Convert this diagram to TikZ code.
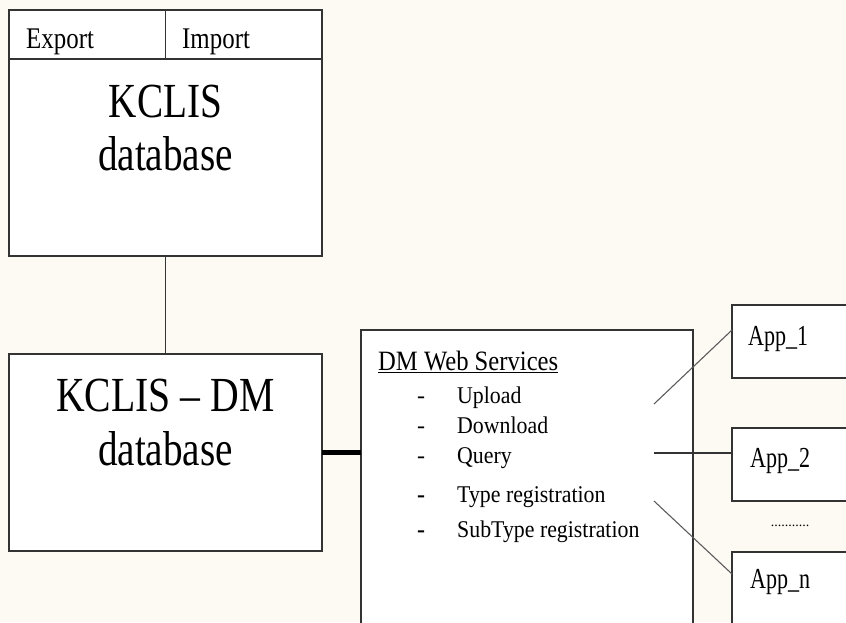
\documentclass[tikz,border=0pt]{standalone}
\usepackage{fontspec}
\setmainfont{Liberation Serif}
\usepackage{graphicx}
\usepackage{xcolor}
\definecolor{paper}{HTML}{FDF9F3}
\definecolor{edge}{HTML}{333333}
\definecolor{wire}{HTML}{5C5C5C}
\newcommand{\nar}[2][0.8]{\scalebox{#1}[1]{#2}}
\tikzset{
  box/.style={draw=edge, line width=1.2pt, fill=white, rectangle, outer sep=0pt, inner sep=0pt, anchor=north west},
  txt/.style={inner sep=0pt, anchor=base west},
  big/.style={inner sep=0pt, anchor=base, font={\fontsize{49}{49}\selectfont}},
  item/.style={txt, font={\fontsize{24}{24}\selectfont}},
  app/.style={txt, font={\fontsize{29}{29}\selectfont}},
}

\begin{document}
\begin{tikzpicture}[x=1pt, y=-1pt]
  \clip (0,0) rectangle (846,622);
  \fill[paper] (0,0) rectangle (846,622);

  % top database
  \node[box, minimum width=313pt, minimum height=246pt] (kclis) at (9,10) {};
  \node[box, minimum width=156.5pt, minimum height=49pt] (export) at (kclis.north west) {};
  \node[box, minimum width=156.5pt, minimum height=49pt] (import) at (export.north east) {};
  \node[txt, font={\fontsize{30}{30}\selectfont}] (exportname) at (26,48) {\nar[0.83]{Export}};
  \node[txt, font={\fontsize{30}{30}\selectfont}] (importname) at (182,48) {\nar[0.83]{Import}};
  \node[big] (kclisname) at (165.5,117) {\nar{KCLIS}};
  \node[big] (kclisdb) at (165.5,170) {\nar{database}};

  % lower database
  \node[box, minimum width=313pt, minimum height=197pt] (kclisdm) at (9,354) {};
  \node[big] (kclisdmname) at (165.5,411) {\nar[0.81]{KCLIS -- DM}};
  \node[big] (kclisdmdb) at (165.5,465) {\nar{database}};
  \draw[edge, line width=1.2pt] (kclis.south) -- (kclisdm.north);

  % web services
  \node[box, minimum width=332pt, minimum height=320pt] (dmws) at (361,330) {};
  \draw[line width=5pt] (kclisdm.east) -- (kclisdm.east -| dmws.west);
  \node[txt, font={\fontsize{28}{28}\selectfont}] (dmhead) at (378,370) {\nar[0.88]{\underline{DM Web Services}}};
  \node[item] (dash1) at (417,403) {-};
  \node[item] (dash2) at (417,433) {-};
  \node[item] (dash3) at (417,463) {-};
  \node[item] (dash4) at (417,502) {\textbf{-}};
  \node[item] (dash5) at (417,537) {\textbf{-}};
  \node[item] (upload) at (457,403) {\nar[0.91]{Upload}};
  \node[item] (download) at (457,433) {\nar[0.91]{Download}};
  \node[item] (query) at (457,463) {\nar[0.91]{Query}};
  \node[item] (typereg) at (457,502) {\nar[0.91]{Type registration}};
  \node[item] (subtypereg) at (457,537) {\nar[0.91]{SubType registration}};

  % applications
  \node[box, minimum width=150pt, minimum height=73pt] (app1) at (732,305) {};
  \node[box, minimum width=150pt, minimum height=73pt] (app2) at (732,428) {};
  \node[box, minimum width=150pt, minimum height=100pt] (appn) at (732,552) {};
  \node[app] (app1name) at (748,345) {\nar[0.76]{App\_1}};
  \node[app] (app2name) at (750,467) {\nar[0.76]{App\_2}};
  \node[app] (appnname) at (750,588) {\nar[0.76]{App\_n}};
  \node[inner sep=0pt, font={\fontsize{14}{14}\selectfont}] (more) at (790,526) {...........};

  \coordinate (w1) at (654,404);
  \coordinate (w2) at (654,453);
  \coordinate (w3) at (654,501);
  \coordinate (a1) at (732,330);
  \coordinate (an) at (732,574);
  \draw[wire, line width=1.1pt] (w1) -- (a1);
  \draw[edge, line width=1.1pt] (w2) -- (w2 -| app2.west);
  \draw[wire, line width=1.1pt] (w3) -- (an);
\end{tikzpicture}
\end{document}
